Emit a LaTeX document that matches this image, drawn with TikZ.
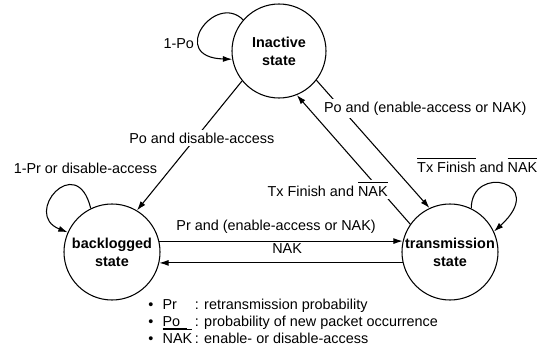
\documentclass[tikz,border=0pt]{standalone}
\usepackage{fontspec}
\setmainfont{Liberation Sans}
\usetikzlibrary{arrows.meta}

\newcommand{\labelsize}{\fontsize{10.8}{12.75}\selectfont}
\newcommand{\barred}[1]{\leavevmode\vbox{\hrule height 0.5pt\kern 2.5pt\hbox{#1}}}

\tikzset{
    stnode/.style={circle, draw, line width=0.8pt, minimum size=72pt, inner sep=0pt,
        align=center, font=\fontsize{10.8}{13.5}\selectfont\bfseries},
    lbl/.style={fill=white, inner sep=2pt},
    trans/.style={-{Latex[length=7pt, width=4.5pt]}, line width=0.8pt}
}

\begin{document}
\begin{tikzpicture}[x=0.75pt, y=-0.75pt, font=\labelsize]
    % Page size
    \useasboundingbox (0, 0) rectangle (544, 346);

    % Draw states
    \node[stnode, minimum size=70.5pt] (ina) at (279, 51) {Inactive\\state};
    \node[stnode] (bac) at (112, 252) {backlogged\\state};
    \node[stnode] (tra) at (450, 252) {transmission\\state};

    % Self loops
    \draw[trans] (ina.139) .. controls +(-28, -28) and +(-65, -2) .. (ina.190)
        node[lbl, pos=0.66, anchor=east, xshift=-2pt, yshift=-2pt] {1-Po};
    \draw[trans] (bac.116) .. controls +(-14, -58) and +(-46, -18) .. (bac.156)
        node[pos=0.25, above=5pt, xshift=8pt] {1-Pr or disable-access};
    \draw[trans] (tra.64) .. controls +(0, -45) and +(55, -50) .. (tra.25)
        node[pos=0.3, above=5pt, xshift=-7pt] {\barred{Tx Finish} and \barred{NAK}};

    % Transitions between states
    \draw[trans] (ina.219) -- (bac.59)
        node[lbl, pos=0.44, xshift=4.5pt] {Po and disable-access};
    \draw[trans] (ina.322) -- (tra.115)
        node[lbl, pos=0.22, xshift=63pt] {Po and (enable-access or NAK)};
    \draw[trans] (tra.145) -- (ina.292)
        node[lbl, pos=0.27, xshift=-39pt] {Tx Finish and \barred{NAK}};
    \draw[trans] (bac.13) -- (tra.167)
        node[pos=0.48, above=2pt] {Pr and (enable-access or NAK)};
    \draw[trans] (tra.193) -- (bac.347)
        node[pos=0.475, above=3pt] {NAK};

    % Key
    \node[anchor=west, inner sep=0pt] (key) at (148, 323) {%
        \begin{tabular}{@{}l@{\hspace{7pt}}l@{\hspace{2pt}}l@{}}
            • & Pr & : retransmission probability\\
            • & \underline{Po\hspace{5pt}} & : probability of new packet occurrence\\
            • & \smash{\barred{NAK}} & : enable- or disable-access
        \end{tabular}};
\end{tikzpicture}
\end{document}
